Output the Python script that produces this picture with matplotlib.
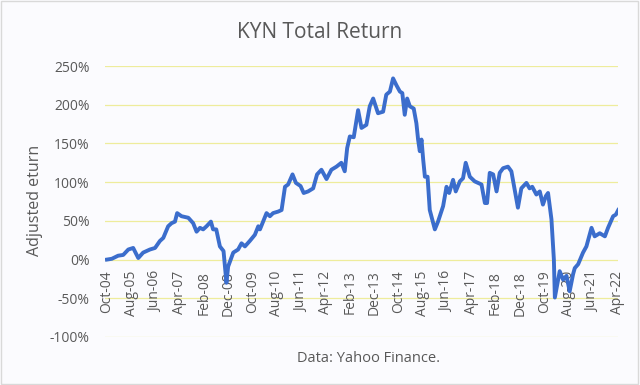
import matplotlib
matplotlib.use("Agg")
import matplotlib.pyplot as plt
from matplotlib.ticker import FixedLocator, FuncFormatter

# Month offsets from Oct-2004 and total return (%)
months = [0, 2, 4.6, 6.7, 8.8, 10.8, 12.9, 14.9, 17.7, 19.8, 21.8, 23.2, 25.2, 26.6, 28,
          28.9, 30.7, 33.5, 35.5, 36.9, 38.3, 39.6, 41, 42.8, 43.7, 45, 46.5, 48, 49.2,
          49.9, 52, 54, 55.4, 56.8, 58.8, 60.9, 62.3, 63, 64.3, 65.7, 67.1, 68.4, 70.5,
          71.9, 73.3, 74.6, 76.4, 77.8, 79.7, 81, 82.8, 84.9, 86.5, 88.3, 90.4, 92.4,
          94.5, 96.5, 97.9, 98.9, 100, 101.6, 103.4, 104.8, 106.8, 108.2, 109.6, 111.6,
          113.7, 115, 116.5, 117.8, 119.2, 120.6, 121.6, 122.6, 123.6, 124.7, 126.3,
          127.4, 128.1, 128.8, 129.5, 130.2, 130.9, 132, 132.9, 134.3, 135, 136.3,
          138.4, 139.8, 140.9, 142.5, 143.6, 145.3, 146.6, 147.7, 149.4, 151.4, 154.2,
          155.6, 156.5, 157.6, 159, 160.4, 161.7, 163.1, 165.1, 166.5, 167.9, 169.2,
          170.6, 172.7, 174, 175.1, 176.8, 178.2, 179.5, 180.7, 181.6, 183, 184, 184.4,
          185, 186.4, 187.8, 189.2, 190.5, 191.9, 192.6, 194, 196, 197.4, 199.5, 200.8,
          202.9, 205, 206.3, 208.4, 209.5, 210.5]
returns = [0, 1, 5, 6, 13, 15, 2, 9, 13, 15, 24, 28, 43, 47, 49,
           60, 56, 54, 47, 36, 41, 39, 43, 49, 39, 39, 17, 11, -30,
           -9, 9, 13, 21, 17, 24, 32, 43, 39, 49, 60, 56, 60, 62,
           64, 94, 97, 110, 99, 95, 86, 88, 92, 110, 116, 104, 116,
           120, 125, 114, 144, 159, 158, 193, 170, 174, 198, 208, 189,
           191, 213, 217, 234, 225, 217, 215, 187, 208, 198, 195,
           176, 155, 140, 155, 129, 107, 107, 64, 47, 39, 49,
           69, 94, 86, 103, 88, 101, 105, 125, 107, 101, 97,
           73, 73, 112, 110, 88, 112, 118, 120, 114, 90, 67,
           92, 99, 92, 94, 84, 88, 71, 82, 86, 52, 0, -49,
           -39, -15, -26, -21, -41, -19, -11, -6, 9, 17, 41, 30,
           34, 30, 41, 56, 58, 64]

tick_months = list(range(0, 211, 10))
tick_labels = ["Oct-04", "Aug-05", "Jun-06", "Apr-07", "Feb-08", "Dec-08", "Oct-09",
               "Aug-10", "Jun-11", "Apr-12", "Feb-13", "Dec-13", "Oct-14", "Aug-15",
               "Jun-16", "Apr-17", "Feb-18", "Dec-18", "Oct-19", "Aug-20", "Jun-21",
               "Apr-22"]
y_ticks = [-100, -50, 0, 50, 100, 150, 200, 250]

plt.rcParams['font.family'] = ['Open Sans', 'DejaVu Sans']
txt = '#595959'
bg = '#fbfbfe'

fig = plt.figure(figsize=(6.4, 3.85), dpi=100, facecolor=bg)
ax = fig.add_axes([105/640, 1-337/385, 513/640, 271/385])
ax.set_facecolor(bg)
ax.spines['bottom'].set_position(('data', 0))
for s in ax.spines.values():
    s.set_visible(False)

for v in y_ticks:
    ax.axhline(v, color='#eeec9c', lw=0.9, zorder=1)

ax.plot(months, returns, color='#3b6dcc', lw=2.8, solid_joinstyle='round', zorder=3)

ax.set_xlim(-0.8, 210.4)
ax.set_ylim(-100, 250)
ax.yaxis.set_major_locator(FixedLocator(y_ticks))
ax.yaxis.set_major_formatter(FuncFormatter(lambda v, p: f"{int(v)}%"))
ax.set_xticks(tick_months)
ax.set_xticklabels(tick_labels, rotation=90)
ax.tick_params(axis='x', length=0, pad=8, labelsize=10, labelcolor=txt)
ax.tick_params(axis='y', length=0, pad=11, labelsize=10, labelcolor=txt)

ax.set_ylabel("Adjusted eturn", fontsize=11.5, color=txt)
ax.yaxis.set_label_coords((43 - 105) / 513, (337 - 200) / 271)

fig.text(320/640, 1 - 32/385, "KYN Total Return", fontsize=15,
         color=txt, ha='center', va='center')
fig.text(369/640, 1 - 359/385, "Data: Yahoo Finance.", fontsize=10.5,
         color=txt, ha='center', va='center')

border = plt.Rectangle((0.002, 0.003), 0.995, 0.994, transform=fig.transFigure,
                       fill=False, edgecolor='#d9d9d9', lw=1)
fig.patches.append(border)

fig.savefig("out.png", dpi=100, facecolor=bg)
